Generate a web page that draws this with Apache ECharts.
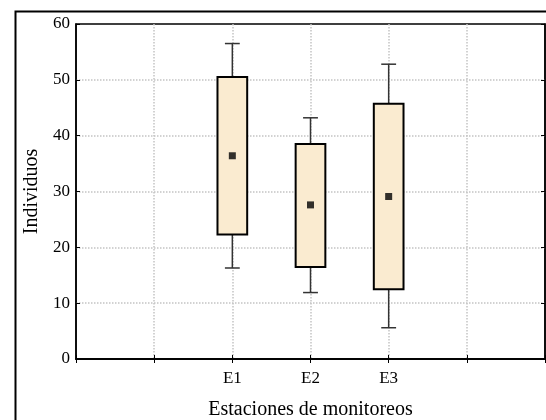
<!DOCTYPE html>
<html>
<head>
<meta charset="utf-8">
<script src="https://cdn.jsdelivr.net/npm/echarts@6/dist/echarts.min.js"></script>
<style>
  html, body { margin: 0; padding: 0; background: #fff; }
  #chart { width: 546px; height: 420px; }
</style>
</head>
<body>
<div id="chart"></div>
<script>
// axis slots: stations sit on the 3rd-5th gridline
const xCategories = ['', '', 'E1', 'E2', 'E3', '', '']
const stationIndex = [2, 3, 4]

// (whiskers / box edges / mean marker)
const whiskerLow = [16.3, 11.9, 5.6]
const boxLow = [22.3, 16.5, 12.5]
const meanValue = [36.4, 27.6, 29.1]
const boxHigh = [50.5, 38.5, 45.7]
const whiskerHigh = [56.5, 43.2, 52.8]

const yTicks = { min: 0, max: 60, interval: 10 }

const font = '"Liberation Serif", "DejaVu Serif", serif'

const boxData = stationIndex.map((x, i) => [x, whiskerLow[i], boxLow[i], boxHigh[i], whiskerHigh[i]])
const meanData = stationIndex.map((x, i) => [x, meanValue[i]])

function renderBox(params, api) {
  const x = api.value(0)
  const lo = api.coord([x, api.value(1)])
  const q1 = api.coord([x, api.value(2)])
  const q3 = api.coord([x, api.value(3)])
  const hi = api.coord([x, api.value(4)])
  const step = api.size([1, 0])[0]
  const bw = step * 0.38
  const cw = step * 0.19
  const cx = q1[0]
  const whisker = { stroke: '#333', lineWidth: 1.5 }
  return {
    type: 'group',
    children: [
      { type: 'line', shape: { x1: cx, y1: hi[1], x2: cx, y2: q3[1] }, style: whisker },
      { type: 'line', shape: { x1: cx - cw / 2, y1: hi[1], x2: cx + cw / 2, y2: hi[1] }, style: whisker },
      { type: 'line', shape: { x1: cx, y1: q1[1], x2: cx, y2: lo[1] }, style: whisker },
      { type: 'line', shape: { x1: cx - cw / 2, y1: lo[1], x2: cx + cw / 2, y2: lo[1] }, style: whisker },
      {
        type: 'rect',
        shape: { x: cx - bw / 2, y: q3[1], width: bw, height: q1[1] - q3[1] },
        style: { fill: '#FAEBD0', stroke: '#000', lineWidth: 2 }
      }
    ]
  }
}

const gridLine = { color: '#c4c4c4', type: 'dotted', width: 1.5 }
const tick = { inside: true, length: 4, lineStyle: { color: '#000' } }

const chart = echarts.init(document.getElementById('chart'))
chart.setOption({
  animation: false,
  backgroundColor: '#fff',
  textStyle: { fontFamily: font },
  graphic: [{
    type: 'rect',
    left: 13, top: 9,
    shape: { width: 560, height: 440 },
    style: { fill: 'none', stroke: '#000', lineWidth: 2 },
    z: 100, silent: true
  }],
  grid: {
    left: 76, top: 24, right: 1, bottom: 61,
    outerBoundsMode: 'none',
    containLabel: false,
    show: true, borderColor: '#000', borderWidth: 1.5
  },
  xAxis: [
    {
      type: 'category',
      data: xCategories,
      boundaryGap: false,
      name: 'Estaciones de monitoreos',
      nameLocation: 'middle',
      nameGap: 41,
      nameTextStyle: { fontFamily: font, fontSize: 20, color: '#000' },
      axisLine: { lineStyle: { color: '#000', width: 1.5 } },
      axisTick: Object.assign({ interval: 0 }, tick),
      axisLabel: { interval: 0, margin: 11, fontFamily: font, fontSize: 17, color: '#000' },
      splitLine: { show: true, interval: 0, showMinLine: false, showMaxLine: false, lineStyle: gridLine }
    },
    {
      type: 'category',
      position: 'top',
      data: xCategories,
      boundaryGap: false,
      axisLine: { lineStyle: { color: '#000', width: 1.5 } },
      axisTick: Object.assign({ interval: 0 }, tick),
      axisLabel: { show: false },
      splitLine: { show: false }
    }
  ],
  yAxis: [
    {
      type: 'value',
      min: yTicks.min, max: yTicks.max, interval: yTicks.interval,
      name: 'Individuos',
      nameLocation: 'middle',
      nameGap: 32,
      nameTextStyle: { fontFamily: font, fontSize: 20, color: '#000' },
      axisLine: { show: true, lineStyle: { color: '#000', width: 1.5 } },
      axisTick: Object.assign({ show: true }, tick),
      axisLabel: { margin: 6, fontFamily: font, fontSize: 17, color: '#000' },
      splitLine: { show: true, showMinLine: false, showMaxLine: false, lineStyle: gridLine }
    },
    {
      type: 'value',
      position: 'right',
      min: yTicks.min, max: yTicks.max, interval: yTicks.interval,
      axisLine: { show: true, lineStyle: { color: '#000', width: 1.5 } },
      axisTick: Object.assign({ show: true }, tick),
      axisLabel: { show: false },
      splitLine: { show: false }
    }
  ],
  series: [
    {
      type: 'custom',
      renderItem: renderBox,
      data: boxData,
      encode: { x: 0, y: [1, 2, 3, 4] },
      z: 2
    },
    {
      type: 'scatter',
      data: meanData,
      symbol: 'rect',
      symbolSize: 7,
      itemStyle: { color: '#000' },
      z: 3
    }
  ]
})
</script>
</body>
</html>
